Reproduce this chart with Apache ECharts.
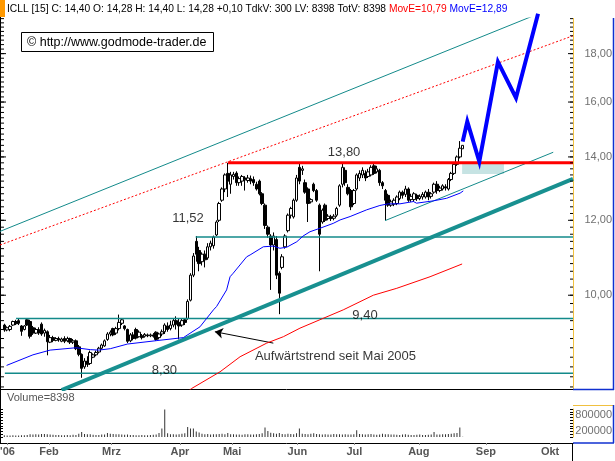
<!DOCTYPE html>
<html><head><meta charset="utf-8">
<script src="https://cdn.jsdelivr.net/npm/echarts@6/dist/echarts.min.js"></script>
<style>html,body{margin:0;padding:0;background:#fff}#c{width:615px;height:461px}</style>
</head><body><div id="c"></div>
<script>
// ---------- DATA ----------
const N_SLOTS = 200;          // trading-day slots on the time axis
const firstSlot = 1;          // slot of first candle
// [open, close, low, high]
const ohlc = [
[9.30,9.19,9.15,9.33],[9.19,9.24,9.16,9.27],[9.20,9.27,9.16,9.30],[9.30,9.38,9.28,9.40],[9.38,9.33,9.30,9.42],
[9.40,9.34,9.30,9.44],[9.28,9.16,9.06,9.30],[9.20,9.28,9.18,9.30],[9.42,9.30,9.28,9.46],[9.38,9.05,9.00,9.42],
[9.24,9.12,9.08,9.28],[9.12,9.20,9.10,9.24],[9.20,9.12,9.08,9.25],[9.32,9.10,9.06,9.36],[9.12,9.18,9.04,9.22],
[9.15,8.93,8.64,9.18],[8.92,9.02,8.90,9.08],[9.02,8.96,8.92,9.06],[8.96,9.00,8.94,9.03],[9.00,8.97,8.93,9.04],
[8.94,8.99,8.92,9.02],[9.00,8.94,8.90,9.05],[8.95,9.00,8.92,9.04],[9.00,8.92,8.88,9.02],[8.92,8.95,8.88,8.99],
[8.95,8.78,8.75,8.98],[8.82,8.66,8.62,8.86],[8.66,8.37,8.18,8.68],[8.40,8.52,8.36,8.58],[8.52,8.45,8.40,8.62],
[8.47,8.70,8.44,8.74],[8.60,8.65,8.58,8.68],[8.65,8.70,8.62,8.74],[8.71,8.79,8.68,8.82],[8.79,8.86,8.76,8.89],
[8.84,8.95,8.82,8.98],[8.98,9.10,8.95,9.14],[9.10,9.14,9.05,9.18],[9.22,9.08,9.05,9.24],[9.12,9.22,9.08,9.26],
[9.22,9.36,9.18,9.54],[9.34,9.42,9.30,9.46],[9.28,9.22,9.18,9.30],[9.20,8.94,8.90,9.22],[8.95,9.08,8.92,9.12],
[9.08,9.00,8.96,9.14],[9.20,9.01,8.98,9.24],[9.04,9.14,9.02,9.18],[9.06,9.02,8.98,9.10],[9.05,9.09,9.02,9.12],
[9.08,9.06,9.03,9.11],[9.06,9.08,9.03,9.11],[9.08,9.05,9.02,9.12],[9.14,8.98,8.95,9.16],[9.02,9.10,8.98,9.13],
[9.10,9.15,9.05,9.20],[9.15,9.30,9.10,9.34],[9.28,9.20,9.15,9.36],[9.22,9.30,9.18,9.40],[9.30,9.40,9.25,9.46],
[9.40,9.32,9.20,9.50],[9.36,9.28,8.98,9.44],[9.30,9.40,9.26,9.45],[9.42,9.36,9.30,9.46],[9.45,9.85,9.42,9.90],
[9.88,10.50,9.85,10.55],[10.50,11.00,10.45,11.08],[11.40,11.05,10.85,11.55],[11.15,10.80,10.60,11.25],[10.85,11.05,10.75,11.10],
[11.05,10.90,10.70,11.15],[10.95,11.25,10.90,11.35],[11.25,11.35,11.15,11.42],[11.28,11.52,11.20,11.56],[11.58,11.95,11.55,12.00],
[12.00,12.50,11.95,12.55],[12.60,12.95,12.55,13.00],[12.95,13.40,12.85,13.45],[13.45,13.20,12.70,13.80],[13.10,13.40,12.80,13.50],
[13.35,13.42,13.25,13.50],[13.46,13.15,13.05,13.52],[13.15,13.28,13.05,13.35],[13.20,13.35,13.05,13.40],[13.30,13.24,12.90,13.36],
[13.22,13.30,13.15,13.40],[13.28,13.20,13.10,13.38],[13.25,13.15,13.05,13.35],[13.10,12.95,12.90,13.18],[13.20,12.80,12.75,13.25],
[12.80,12.50,12.45,12.85],[12.45,11.85,11.75,12.50],[11.80,11.60,11.50,11.85],[11.55,11.30,10.13,11.60],[11.30,11.55,11.15,11.65],
[11.45,10.50,10.40,11.55],[10.55,10.05,9.55,10.60],[10.70,10.98,10.65,11.05],[11.25,11.55,11.20,11.60],[11.70,12.15,11.65,12.20],
[12.15,12.35,12.05,12.40],[12.10,12.60,12.05,12.65],[12.60,13.30,12.55,13.40],[13.65,13.20,13.10,13.82],[13.55,13.60,13.40,13.70],
[13.15,12.85,12.80,13.25],[12.95,12.50,11.95,13.00],[12.55,12.62,12.50,12.66],[13.10,12.90,12.85,13.15],[12.90,12.60,12.55,12.95],
[12.45,11.60,10.60,12.50],[11.95,12.30,11.90,12.35],[12.45,12.00,11.95,12.50],[12.05,12.12,12.00,12.18],[12.10,12.05,11.98,12.16],
[12.06,12.12,12.00,12.18],[12.15,12.35,12.10,12.40],[12.45,13.05,12.40,13.10],[13.10,13.65,13.00,13.80],[13.55,13.15,13.05,13.65],
[13.00,12.80,12.75,13.10],[12.90,12.40,12.30,12.95],[12.50,12.90,12.45,12.95],[12.95,13.40,12.90,13.45],[13.30,13.45,13.20,13.55],
[13.40,13.55,13.30,13.65],[13.45,13.30,13.20,13.55],[13.35,13.50,13.30,13.60],[13.40,13.65,13.35,13.72],[13.70,13.45,13.40,13.80],
[13.50,13.60,13.45,13.70],[13.55,13.15,13.05,13.60],[13.15,13.05,12.95,13.20],[12.90,12.60,12.00,12.95],[12.75,12.45,12.40,12.80],
[12.45,12.55,12.40,12.62],[12.48,12.60,12.42,12.66],[12.50,12.70,12.45,12.75],[12.65,12.85,12.60,12.90],[12.85,12.75,12.65,12.90],
[12.78,12.95,12.70,13.05],[12.95,12.60,12.55,13.00],[12.62,12.72,12.55,12.80],[12.62,12.80,12.55,12.85],[12.75,12.65,12.58,12.80],
[12.65,12.72,12.60,12.78],[12.70,12.78,12.62,12.85],[12.70,12.85,12.65,12.90],[12.85,12.70,12.60,12.95],[12.72,12.80,12.65,12.85],
[12.85,13.10,12.80,13.15],[13.10,12.90,12.80,13.20],[12.90,12.98,12.85,13.05],[12.95,13.05,12.90,13.10],[13.02,12.98,12.90,13.10],
[12.95,13.25,12.90,13.30],[13.25,13.45,13.20,13.50],[13.45,13.75,13.40,13.80],[13.75,14.00,13.70,14.05],[14.00,14.30,13.95,14.55],
[14.28,14.40,14.28,14.40]
];
const volumes = [
60000,55000,50000,60000,55000,50000,65000,60000,70000,95000,
90000,100000,85000,110000,105000,95000,90000,80000,70000,75000,
65000,60000,70000,65000,80000,75000,120000,180000,110000,95000,
100000,80000,75000,70000,85000,90000,144000,120000,110000,95000,
100000,90000,80000,85000,75000,70000,65000,60000,70000,65000,
60000,75000,80000,90000,144000,300000,980000,130000,100000,95000,
90000,100000,120000,130000,360000,300000,300000,200000,160000,120000,
100000,110000,90000,95000,100000,110000,120000,100000,144000,100000,
95000,90000,85000,80000,100000,95000,85000,90000,100000,110000,
130000,336000,216000,150000,130000,120000,140000,110000,100000,120000,
110000,100000,130000,300000,120000,110000,100000,115000,130000,105000,
100000,90000,95000,85000,90000,110000,100000,95000,90000,100000,
85000,90000,100000,240000,110000,100000,90000,95000,105000,85000,
80000,90000,120000,100000,95000,90000,85000,80000,75000,85000,
95000,80000,75000,70000,80000,90000,75000,70000,80000,85000,
180000,90000,85000,95000,100000,110000,120000,130000,140000,336000,
8398
];
// moving averages (slot, value)
const maBlueSlots = [1.8, 11, 17, 26, 31, 34, 38, 44, 55, 63.5, 69.3, 74, 75.1, 78.6, 79.8, 80.9, 85.6, 86.8, 91.4, 94.9, 97.2, 99.6, 103.1, 105.3, 107.7, 111.2, 115.8, 118.2, 121.7, 127.5, 132.1, 135, 139.1, 143.8, 144.9, 150.7, 155.4, 160.1, 161.2];
const maBlueVals  = [8.43, 8.65, 8.75, 8.80, 8.76, 8.75, 8.78, 8.88, 8.96, 9.02, 9.26, 9.65, 9.73, 10.13, 10.46, 10.55, 10.98, 11.03, 11.25, 11.27, 11.21, 11.24, 11.39, 11.55, 11.67, 11.77, 11.91, 12.01, 12.11, 12.31, 12.44, 12.49, 12.49, 12.56, 12.51, 12.58, 12.66, 12.82, 12.89];
const maRedSlots = [62.3, 66.4, 76.3, 83.3, 92.6, 98.4, 104.2, 119.3, 129.8, 138.0, 149.6, 160.8];
const maRedVals  = [7.80, 7.97, 8.30, 8.61, 8.90, 9.04, 9.23, 9.65, 10.00, 10.17, 10.46, 10.79];
// projected path
const projSlots = [161.0, 162.6, 166.8, 173.3, 179.6, 187.3];
const projVals  = [14.53, 15.26, 13.84, 17.64, 16.16, 19.83];
// horizontal levels: value, start slot
const levelVals   = [13.80, 11.52, 9.45, 8.27];
const levelStarts = [79.1, 67.8, 5.1, 1.2];
// trend / channel lines: [slot, value] pairs
const trendThick   = [[21.0, 7.94], [199.5, 13.27]];
const channelUpper = [[-0.5, 11.68], [199.5, 20.52]];
const channelLow   = [[133.9, 11.99], [192.6, 14.16]];
const redDotted    = [[-0.5, 11.30], [199.5, 18.80]];
// target zone
const zoneSlots = [160.8, 175.4];
const zoneVals  = [13.80, 13.43];
// annotations
const noteTexts = ['13,80', '11,52', '9,40', '8,30', 'Aufwärtstrend seit Mai 2005'];
const noteSlots = [119.6, 65.1, 126.9, 56.9, 116.6];
const noteVals  = [14.14, 12.04, 9.51, 8.32, 8.61];
const arrowFrom = [94.9, 8.90];
const arrowTo   = [74.5, 9.15];
// axes
const priceLabels = [10, 12, 14, 16, 18];
const volLabels = [200000, 800000];
const monthSlots = [2.1, 16.6, 38.4, 62.3, 80.5, 103.3, 123.2, 145.7, 169.1, 191.5];
const monthNames = ["'06", 'Feb', 'Mrz', 'Apr', 'Mai', 'Jun', 'Jul', 'Aug', 'Sep', 'Okt'];
const yMin = 7.96, yMax = 19.63;
const tickVolume = 300;

// ---------- BUILD ----------
const FONT = '"Liberation Sans", Arial, Helvetica, sans-serif';
const HFONT = '10.25px ' + FONT;
const PLOT_W = 573;                       // plot width in px (grid left 0, right 42)
const pxPerSlot = PLOT_W / N_SLOTS;
const fmt = v => v.toFixed(2).replace('.', ',');
const slots = Array.from({length: N_SLOTS}, (_, i) => String(i));
const candleData = ohlc.map((r, i) => [firstSlot + i, r[0], r[1], r[2], r[3]]);
const volData = volumes.map((v, i) => [firstSlot + i, v]);
const last = ohlc[ohlc.length - 1], prev = ohlc[ohlc.length - 2];
const lastVol = volumes[volumes.length - 1];
const chg = last[1] - prev[1];
const minorTicks = []; for (let k = 40; k <= 98; k++) minorTicks.push(k / 5);
const volTicks = []; for (let k = 0; k <= 10; k++) volTicks.push(k * 100000);

const chart = echarts.init(document.getElementById('c'), null, {renderer: 'canvas'});

const priceAxis = {
  type: 'log', logBase: 10, min: yMin, max: yMax, gridIndex: 0, position: 'right',
  splitLine: {show: false}, axisLine: {show: false, onZero: false}, axisTick: {show: false},
  axisLabel: {show: true, customValues: priceLabels, formatter: v => fmt(v), align: 'right', margin: 39,
    color: '#707070', fontSize: 11, fontFamily: FONT}
};
function volAxis(pos, labels, lineColor) {
  return {
    type: 'value', min: 0, max: 1000000, gridIndex: 1, position: pos,
    splitLine: {show: false},
    axisLine: {show: true, onZero: false, lineStyle: {color: lineColor, width: 1}},
    axisTick: {show: true, inside: true, length: 3, customValues: volTicks, lineStyle: {color: '#000', width: 1}},
    axisLabel: labels ? {show: true, customValues: labels, formatter: v => String(v), align: 'right', margin: 39,
      color: '#707070', fontSize: 11, fontFamily: FONT} : {show: false}
  };
}
function seg(pts, style, z, extra) {
  return Object.assign({type: 'line', xAxisIndex: 1, yAxisIndex: 0, data: pts, symbol: 'none', silent: true,
    lineStyle: style, z: z || 4, animation: false}, extra || {});
}
// price-scale tick marks drawn as short broken line pieces at the plot edges
function tickLines(edgeSlot, vals, lenPx, dir) {
  const d = [];
  vals.forEach(v => { d.push([edgeSlot, v], [edgeSlot + dir * lenPx / pxPerSlot, v], '-'); });
  return seg(d, {color: '#000', width: 1}, 20, {connectNulls: false, clip: false});
}

const series = [];
series.push(seg([[zoneSlots[0], zoneVals[0]]], {opacity: 0}, 1, {
  markArea: {silent: true, itemStyle: {color: '#c6e3e3'},
    data: [[{coord: [zoneSlots[0], zoneVals[0]]}, {coord: [zoneSlots[1], zoneVals[1]]}]]}
}));
series.push({
  type: 'candlestick', xAxisIndex: 0, yAxisIndex: 0, data: candleData, encode: {x: 0, y: [1, 2, 3, 4]},
  barWidth: 3, z: 3,
  itemStyle: {color: '#fff', color0: '#000', borderColor: '#000', borderColor0: '#000', borderWidth: 1},
  markLine: {silent: true, symbol: 'none', data: [{yAxis: last[1]}], lineStyle: {opacity: 0},
    label: {position: 'end', distance: 2, formatter: fmt(last[1]), backgroundColor: '#000', color: '#fff',
      padding: [2, 3, 1, 3], fontSize: 11, fontFamily: FONT}}
});
const levelColors = ['#ff0000', '#138a8a', '#138a8a', '#138a8a'];
const levelWidths = [3, 1.5, 1.5, 1.5];
levelVals.forEach((v, i) => series.push(seg([[levelStarts[i], v], [N_SLOTS - 0.5, v]],
  {color: levelColors[i], width: levelWidths[i]}, 5)));
series.push(seg(trendThick, {color: '#189090', width: 4}, 5));
series.push(seg(channelUpper, {color: '#138a8a', width: 1}, 4));
series.push(seg(channelLow, {color: '#138a8a', width: 1}, 4));
series.push(seg(redDotted, {color: '#ff0000', width: 1, type: [2, 2]}, 4));
series.push(seg(maBlueSlots.map((s, i) => [s, maBlueVals[i]]), {color: '#0000ff', width: 1}, 5));
series.push(seg(maRedSlots.map((s, i) => [s, maRedVals[i]]), {color: '#ff0000', width: 1}, 5));
series.push(seg(projSlots.map((s, i) => [s, projVals[i]]), {color: '#0000ff', width: 4, join: 'miter'}, 6, {clip: false}));
series.push({
  type: 'scatter', xAxisIndex: 1, yAxisIndex: 0, symbolSize: 1, silent: true, z: 7,
  itemStyle: {color: 'rgba(0,0,0,0)'},
  data: noteTexts.map((t, i) => ({value: [noteSlots[i], noteVals[i]], name: t})),
  label: {show: true, position: 'inside', formatter: p => p.name, color: '#000', fontSize: 13, fontFamily: FONT},
  markLine: {silent: true, animation: false, lineStyle: {color: '#000', width: 1, type: 'solid'}, label: {show: false},
    symbolSize: 8,
    data: [[{coord: arrowFrom, symbol: 'none'}, {coord: arrowTo, symbol: 'arrow'}]]}
});
series.push({type: 'bar', xAxisIndex: 2, yAxisIndex: 1, data: volData, barWidth: 1, itemStyle: {color: '#333'}, silent: true});
series.push(tickLines(N_SLOTS - 0.5, minorTicks, 3, -1));
series.push(tickLines(N_SLOTS - 0.5, priceLabels, 5, -1));
series.push(tickLines(-0.5, minorTicks, 4, 1));
series.push(tickLines(-0.5, priceLabels, 6, 1));

const option = {
  animation: false,
  textStyle: {fontFamily: FONT},
  grid: [
    {left: 0, right: 42, top: 18, height: 371, containLabel: false, outerBoundsMode: 'none'},
    {left: 0, right: 42, top: 409, height: 28, containLabel: false, outerBoundsMode: 'none'}
  ],
  xAxis: [
    {type: 'category', data: slots, gridIndex: 0, boundaryGap: true, show: false, axisLine: {onZero: false}},
    {type: 'value', gridIndex: 0, min: -0.5, max: N_SLOTS - 0.5, show: false, axisLine: {onZero: false}},
    {type: 'category', data: slots, gridIndex: 1, boundaryGap: true, show: false, axisLine: {onZero: false}},
    {type: 'value', gridIndex: 1, min: -0.5, max: N_SLOTS - 0.5, position: 'bottom', offset: 6,
      splitLine: {show: false},
      axisLine: {show: true, onZero: false, lineStyle: {color: '#000', width: 1}},
      axisTick: {show: true, length: 2, customValues: monthSlots, lineStyle: {color: '#888'}},
      axisLabel: {show: true, customValues: monthSlots, margin: 3, color: '#555', fontSize: 11, fontWeight: 'bold', fontFamily: FONT,
        formatter: v => { let b = 0; monthSlots.forEach((s, i) => { if (Math.abs(s - v) < Math.abs(monthSlots[b] - v)) b = i; }); return monthNames[b]; }}}
  ],
  yAxis: [
    priceAxis,
    volAxis('right', volLabels, '#f0c040'),
    volAxis('left', null, '#000')
  ],
  series: series,
  graphic: [
    {type: 'rect', shape: {x: 0, y: 0, width: 5, height: 17}, style: {fill: '#ff9900'}, silent: true},
    {type: 'text', x: 7, y: 9, silent: true, style: {
      text: '{k|ICLL [15] C: ' + fmt(last[1]) + ' O: ' + fmt(last[0]) + ' H: ' + fmt(last[3]) + ' L: ' + fmt(last[2]) +
        ' ' + (chg >= 0 ? '+' : '') + fmt(chg) + ' TdkV: ' + tickVolume + ' LV: ' + lastVol + ' TotV: ' + lastVol + ' }' +
        '{r|MovE=' + fmt(maRedVals[maRedVals.length - 1]) + '} {b|MovE=' + fmt(maBlueVals[maBlueVals.length - 1]) + '}',
      verticalAlign: 'middle', font: HFONT,
      rich: {k: {fill: '#000', font: HFONT}, r: {fill: '#ff0000', font: HFONT}, b: {fill: '#0000ff', font: HFONT}}
    }},
    {type: 'rect', shape: {x: 21.5, y: 32.5, width: 192, height: 19}, style: {fill: '#fff', stroke: '#000', lineWidth: 1}, silent: true, z: 10},
    {type: 'text', x: 27, y: 42.5, silent: true, z: 11, style: {text: '© http://www.godmode-trader.de', font: '12.5px ' + FONT, fill: '#000', verticalAlign: 'middle'}},
    {type: 'text', x: 7, y: 398, silent: true, style: {text: 'Volume=' + lastVol, font: '11px ' + FONT, fill: '#555', verticalAlign: 'middle'}},
    {type: 'line', shape: {x1: 0.5, y1: 17, x2: 0.5, y2: 443}, style: {stroke: '#000', lineWidth: 1}, silent: true},
    {type: 'line', shape: {x1: 0, y1: 389.5, x2: 573, y2: 389.5}, style: {stroke: '#000', lineWidth: 1}, silent: true},
    {type: 'line', shape: {x1: 573.5, y1: 18, x2: 573.5, y2: 389}, style: {stroke: '#f0c040', lineWidth: 1}, silent: true},
    {type: 'line', shape: {x1: 613.5, y1: 18, x2: 613.5, y2: 390}, style: {stroke: '#1030d0', lineWidth: 1.5}, silent: true},
    {type: 'line', shape: {x1: 573, y1: 389.5, x2: 614, y2: 389.5}, style: {stroke: '#1030d0', lineWidth: 1.5}, silent: true},
    {type: 'line', shape: {x1: 573, y1: 405.5, x2: 614, y2: 405.5}, style: {stroke: '#f0c040', lineWidth: 1}, silent: true},
    {type: 'line', shape: {x1: 613.5, y1: 405, x2: 613.5, y2: 443}, style: {stroke: '#1030d0', lineWidth: 1.5}, silent: true},
    {type: 'line', shape: {x1: 573, y1: 443, x2: 614, y2: 443}, style: {stroke: '#1030d0', lineWidth: 1.5}, silent: true},
    {type: 'line', shape: {x1: 572.5, y1: 443, x2: 572.5, y2: 461}, style: {stroke: '#000', lineWidth: 1}, silent: true}
  ]
};
chart.setOption(option);
</script>
</body></html>
